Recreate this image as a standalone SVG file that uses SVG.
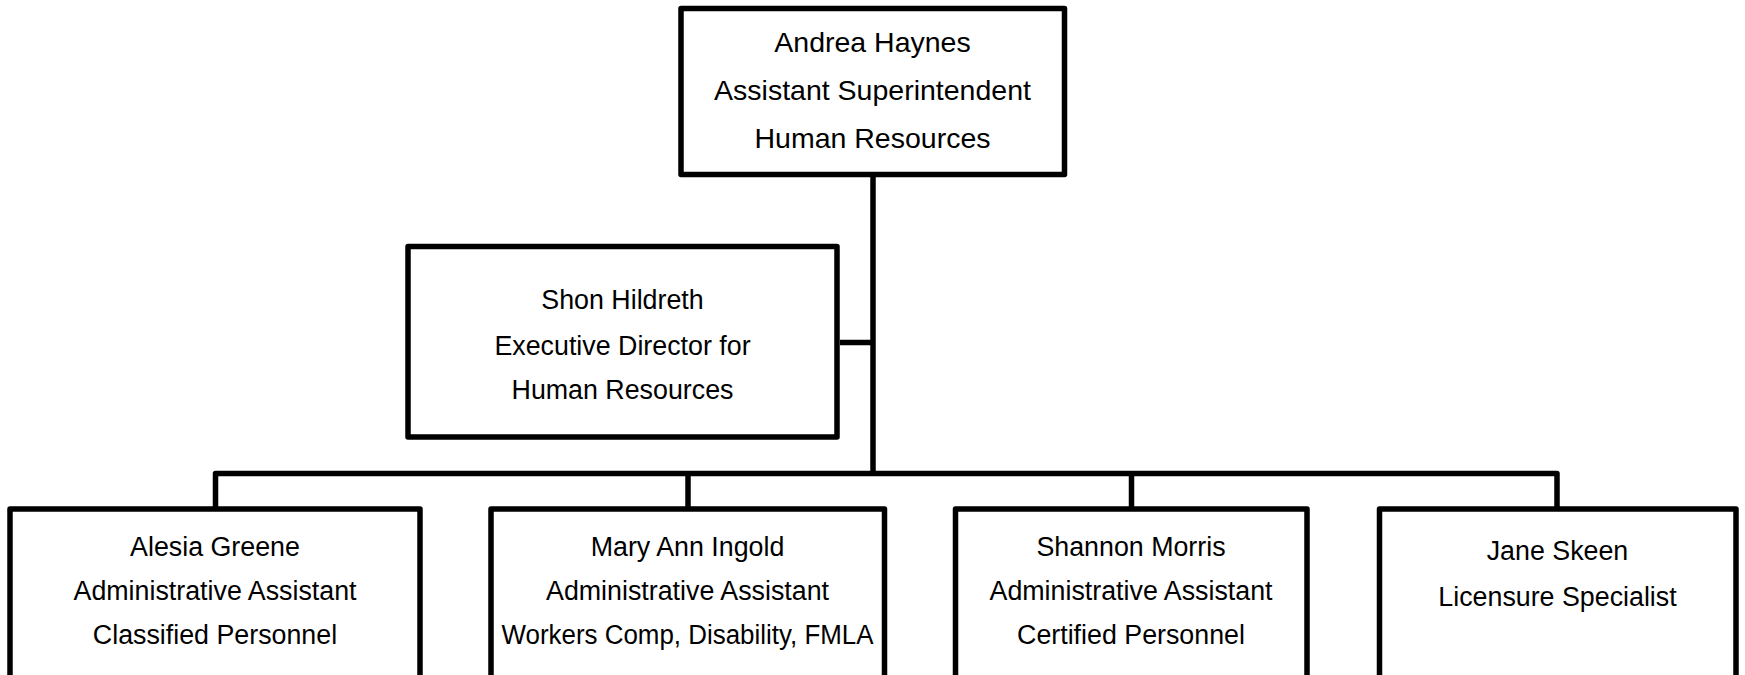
<svg xmlns="http://www.w3.org/2000/svg" width="1745" height="675" viewBox="0 0 1745 675">
<style>
.box{fill:#fff;stroke:#000;stroke-width:5.5;stroke-linejoin:round}
.ln{fill:none;stroke:#000;stroke-width:5.5;stroke-linejoin:round}
text{font-family:"Liberation Sans",Arial,sans-serif;fill:#000;text-anchor:middle}
.t1{font-size:28.5px}
.t2{font-size:26.8px}
</style>
<rect width="1745" height="675" fill="#fff"/>
<g id="connectors">
<path class="ln" d="M873 177 V473"/>
<path class="ln" d="M840 342.5 H873"/>
<path class="ln" d="M215.5 512 V473.5 H1557 V512"/>
<path class="ln" d="M688 473 V512"/>
<path class="ln" d="M1131.5 473 V512"/>
</g>
<g id="n-haynes">
<rect class="box" x="681" y="8.5" width="383.5" height="166"/>
<text class="t1" x="872.5" y="52">Andrea Haynes</text>
<text class="t1" x="872.5" y="100">Assistant Superintendent</text>
<text class="t1" x="872.5" y="148">Human Resources</text>
</g>
<g id="n-hildreth">
<rect class="box" x="408" y="246.5" width="429" height="190.5"/>
<text class="t2" x="622.5" y="309">Shon Hildreth</text>
<text class="t2" x="622.5" y="355">Executive Director for</text>
<text class="t2" x="622.5" y="399">Human Resources</text>
</g>
<g id="n-greene">
<rect class="box" x="10" y="509" width="410" height="200"/>
<text class="t2" x="215" y="556">Alesia Greene</text>
<text class="t2" x="215" y="600">Administrative Assistant</text>
<text class="t2" x="215" y="644">Classified Personnel</text>
</g>
<g id="n-ingold">
<rect class="box" x="491" y="509" width="393.5" height="200"/>
<text class="t2" x="687.5" y="556">Mary Ann Ingold</text>
<text class="t2" x="687.5" y="600">Administrative Assistant</text>
<text class="t2" x="687.5" y="644" textLength="372" lengthAdjust="spacingAndGlyphs">Workers Comp, Disability, FMLA</text>
</g>
<g id="n-morris">
<rect class="box" x="955.5" y="509" width="351.5" height="200"/>
<text class="t2" x="1131" y="556">Shannon Morris</text>
<text class="t2" x="1131" y="600">Administrative Assistant</text>
<text class="t2" x="1131" y="644">Certified Personnel</text>
</g>
<g id="n-skeen">
<rect class="box" x="1379.5" y="509" width="356.5" height="200"/>
<text class="t2" x="1557.5" y="560">Jane Skeen</text>
<text class="t2" x="1557.5" y="606">Licensure Specialist</text>
</g>
</svg>
